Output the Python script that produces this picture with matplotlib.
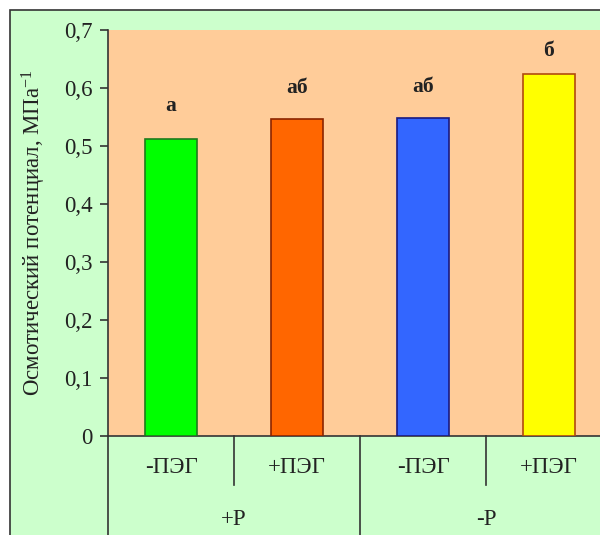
import matplotlib.pyplot as plt
from matplotlib.patches import Rectangle
from matplotlib.ticker import FuncFormatter, MultipleLocator

plt.rcParams['font.family'] = ['Liberation Serif', 'DejaVu Serif']
plt.rcParams['mathtext.fontset'] = 'custom'
plt.rcParams['mathtext.rm'] = 'Liberation Serif'
plt.rcParams['mathtext.default'] = 'regular'

# osmotic potential per treatment
treatments = ['-ПЭГ', '+ПЭГ', '-ПЭГ', '+ПЭГ']
groups = ['+Р', '-Р']
values = [0.512, 0.547, 0.549, 0.624]
letters = ['а', 'аб', 'аб', 'б']
colors = ['#00FF00', '#FF6600', '#3366FF', '#FFFF00']
edges = ['#1E7A1E', '#8B2500', '#1A1A80', '#B04A10']
letter_gap = [0.040, 0.036, 0.035, 0.022]

W, H = 600, 535
fig = plt.figure(figsize=(W / 100, H / 100), dpi=100, facecolor='white')

# chart frame (light green, dark border on left/top)
fig.patches.append(Rectangle((10 / W, -0.1), 1.2, 1 - 10 / H + 0.1,
                             transform=fig.transFigure, facecolor='#CCFFCC',
                             edgecolor='#333333', linewidth=1.2, zorder=-5))

ax = fig.add_axes([108 / W, (H - 436) / H, 504 / W, 406 / H])
ax.set_facecolor('#FFCC99')

fs = 16.5
x = range(len(values))
ax.bar(x, values, width=0.41, color=colors, edgecolor=edges, linewidth=1.2, zorder=3)
for i, (v, t) in enumerate(zip(values, letters)):
    ax.text(i, v + letter_gap[i], t, ha='center', va='bottom', fontsize=15.5,
            fontweight='bold', color='#222222')

ax.set_xlim(-0.5, 3.5)
ax.set_ylim(0, 0.7)
ax.yaxis.set_major_locator(MultipleLocator(0.1))
ax.yaxis.set_major_formatter(FuncFormatter(
    lambda v, p: '0' if abs(v) < 1e-9 else f'{v:.1f}'.replace('.', ',')))
ax.tick_params(axis='y', direction='out', length=6, width=1.2, colors='#333333',
               labelsize=fs, labelcolor='#222222', pad=5)
ax.tick_params(axis='x', length=0, labelbottom=False)

for s in ['top', 'right']:
    ax.spines[s].set_visible(False)
for s in ['left', 'bottom']:
    ax.spines[s].set_color('#333333')
    ax.spines[s].set_linewidth(1.2)

ax.set_ylabel('Осмотический потенциал, МПа$^{-1}$', fontsize=fs, color='#222222')
ax.yaxis.set_label_coords(-0.12, 0.5)

# two-level category axis
tr = ax.get_xaxis_transform()
for xd in [0.5, 2.5]:
    ax.plot([xd, xd], [0, -0.12], transform=tr, color='#333333', lw=1.2, clip_on=False)
for xd in [-0.5, 1.5, 3.5]:
    ax.plot([xd, xd], [0, -0.3], transform=tr, color='#333333', lw=1.2, clip_on=False)
for i, t in enumerate(treatments):
    ax.text(i, -0.077, t, transform=tr, ha='center', va='center', fontsize=fs,
            color='#222222')
for j, g in enumerate(groups):
    ax.text(2 * j + 0.5, -0.205, g, transform=tr, ha='center', va='center',
            fontsize=fs, color='#222222')

fig.savefig('out.png', dpi=100)
